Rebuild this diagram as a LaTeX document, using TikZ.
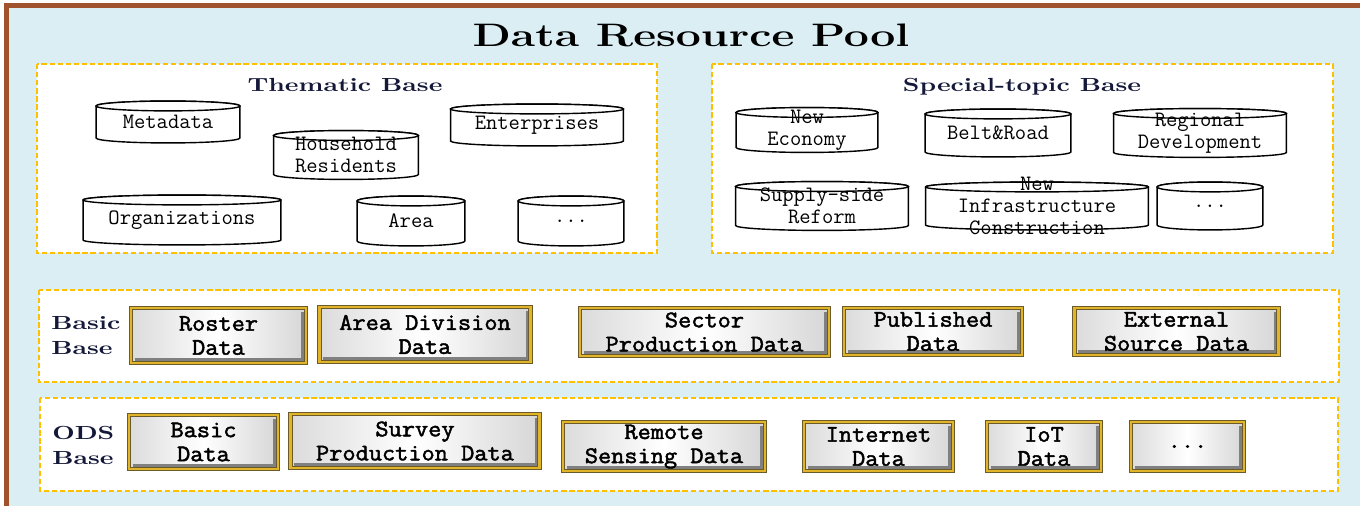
\documentclass[tikz,border=0pt]{standalone}
\usepackage{fontspec}
\usetikzlibrary{calc,positioning}

\newfontfamily\headfont{Latin Modern Roman}[FakeStretch=1.37]
\newfontfamily\cylfont{Latin Modern Mono}
\newfontfamily\btnfont{Latin Modern Mono}[FakeStretch=1.08,FakeBold=2]

\definecolor{poolblue}{HTML}{DAEEF3}
\definecolor{poolbrown}{HTML}{A0522D}
\definecolor{dashgold}{HTML}{FFC000}
\definecolor{btngold}{HTML}{E2B42A}
\definecolor{btnedge}{HTML}{6B5A2A}
\definecolor{headnavy}{HTML}{14193A}

\tikzset{
  pool/.style={fill=poolblue, draw=poolbrown, line width=2.4pt},
  basebox/.style={fill=white, draw=dashgold, line width=1.3pt, dash pattern=on 3pt off 1.6pt},
  heading/.style={font=\headfont\bfseries\fontsize{10.8}{14.2}\selectfont, text=headnavy, inner sep=0pt, align=left},
  titletext/.style={font=\headfont\bfseries\fontsize{18.5}{22}\selectfont, text=black, inner sep=0pt},
  cylline/.style={draw=black, line width=0.8pt, fill=white},
  cyl/.style={inner sep=0pt, path picture={
    \filldraw[cylline] let \p1=(path picture bounding box.south west),
      \p2=(path picture bounding box.north east), \n1={(\x2-\x1)/2-0.6pt} in
      (\x1+0.6pt,\y2-3.4pt) -- (\x1+0.6pt,\y1+3.4pt)
      arc[start angle=180, end angle=360, x radius=\n1, y radius=2.8pt]
      -- (\x2-0.6pt,\y2-3.4pt)
      arc[start angle=0, end angle=180, x radius=\n1, y radius=2.8pt] -- cycle;
    \draw[cylline] let \p1=(path picture bounding box.south west),
      \p2=(path picture bounding box.north east), \n1={(\x2-\x1)/2-0.6pt} in
      ({(\x1+\x2)/2},\y2-3.4pt) ellipse[x radius=\n1, y radius=2.8pt];}},
  cyltext/.style={font=\cylfont\fontsize{12.5}{12.4}\selectfont, align=center, inner sep=0pt},
  btn/.style={draw=btnedge, double=btngold, double distance=1.5pt, line width=0.45pt,
    left color=gray!28, right color=gray!32, middle color=white,
    inner sep=0pt, align=center, font=\btnfont\fontsize{13.5}{13.7}\selectfont,
    path picture={\draw[black!50, line width=1.6pt]
      ([xshift=2pt,yshift=2pt]path picture bounding box.south west) --
      ([xshift=-2pt,yshift=2pt]path picture bounding box.south east) --
      ([xshift=-2pt,yshift=-2pt]path picture bounding box.north east);}}
}

\begin{document}
\begin{tikzpicture}[x=0.02cm, y=-0.02cm]
  \useasboundingbox (0,0) rectangle (1360,506);
  \fill[white] (0,0) rectangle (1360,506);

  % pool frame
  \draw[pool] (6.5,5.5) rectangle (1400,560);
  \node[titletext, anchor=base] (title) at (691,47) {Data Resource Pool};

  % upper bases
  \draw[basebox] (37,64) rectangle (657,253);
  \draw[basebox] (712,64) rectangle (1333,253);
  \node[heading, anchor=base] (thematic) at (345,92) {Thematic Base};
  \node[heading, anchor=base] (special) at (1022,92) {Special-topic Base};

  \node[cyl, minimum width=2.92cm, minimum height=0.88cm, label={[cyltext]center:Metadata}] (meta) at (168,122) {};
  \node[cyl, minimum width=2.94cm, minimum height=1.02cm, label={[cyltext]center:Household\\Residents}] (house) at (346,155) {};
  \node[cyl, minimum width=3.5cm, minimum height=0.88cm, label={[cyltext]center:Enterprises}] (enter) at (537,125) {};
  \node[cyl, minimum width=4.0cm, minimum height=1.04cm, label={[cyltext]center:Organizations}] (orgs) at (182,220) {};
  \node[cyl, minimum width=2.2cm, minimum height=1.04cm, label={[cyltext]center:Area}] (area) at (411,221) {};
  \node[cyl, minimum width=2.16cm, minimum height=1.04cm, label={[cyltext]center:...}] (tdots) at (571,221) {};

  \node[cyl, minimum width=2.88cm, minimum height=0.94cm, label={[cyltext]center:New\\Economy}] (neweco) at (807,130) {};
  \node[cyl, minimum width=2.96cm, minimum height=1.0cm, label={[cyltext]center:Belt\&Road}] (belt) at (998,133) {};
  \node[cyl, minimum width=3.5cm, minimum height=1.02cm, label={[cyltext]center:Regional\\Development}] (regional) at (1200,133) {};
  \node[cyl, minimum width=3.5cm, minimum height=1.02cm, label={[cyltext]center:Supply-side\\Reform}] (supply) at (822,206) {};
  \node[cyl, minimum width=4.5cm, minimum height=1.0cm, label={[cyltext]center:New\\Infrastructure\\Construction}] (infra) at (1037,206) {};
  \node[cyl, minimum width=2.16cm, minimum height=1.0cm, label={[cyltext]center:...}] (sdots) at (1210,206) {};

  % basic base
  \draw[basebox] (39,290) rectangle (1339,382);
  \node[heading, anchor=west] (basiclbl) at (51,336) {Basic\\Base};
  \node[btn, minimum width=3.5cm, minimum height=1.1cm] (roster) at (218.5,335.5) {Roster\\Data};
  \node[btn, minimum width=4.22cm, minimum height=1.1cm] (areadiv) at (425,334.5) {Area Division\\Data};
  \node[btn, minimum width=4.98cm, minimum height=0.96cm] (sector) at (704.5,332) {Sector\\Production Data};
  \node[btn, minimum width=3.56cm, minimum height=0.94cm] (published) at (933,331.5) {Published\\Data};
  \node[btn, minimum width=4.08cm, minimum height=0.94cm] (external) at (1176.5,331.5) {External\\Source Data};

  % ODS base
  \draw[basebox] (40,398) rectangle (1338,491);
  \node[heading, anchor=west] (odslbl) at (52,445) {ODS\\Base};
  \node[btn, minimum width=2.98cm, minimum height=1.08cm] (basicdata) at (203.5,442) {Basic\\Data};
  \node[btn, minimum width=4.98cm, minimum height=1.08cm] (survey) at (415,441) {Survey\\Production Data};
  \node[btn, minimum width=4.04cm, minimum height=0.98cm] (remote) at (664,446.5) {Remote\\Sensing Data};
  \node[btn, minimum width=2.98cm, minimum height=0.98cm] (internet) at (878.5,446.5) {Internet\\Data};
  \node[btn, minimum width=2.28cm, minimum height=0.98cm] (iot) at (1044,446.5) {IoT\\Data};
  \node[btn, minimum width=2.26cm, minimum height=0.98cm] (odots) at (1187.5,446.5) {...};
\end{tikzpicture}
\end{document}
